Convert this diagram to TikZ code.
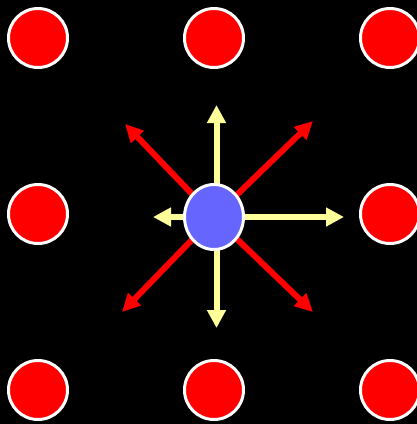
\documentclass[tikz,border=0pt]{standalone}
\usetikzlibrary{arrows.meta,shapes.geometric}
\definecolor{dotred}{HTML}{FF0000}
\definecolor{dotblue}{HTML}{6666FF}
\definecolor{raylight}{HTML}{FFFF99}
\tikzset{
  reddot/.style={circle, fill=dotred, draw=white, line width=3pt, minimum size=59pt, inner sep=0pt},
  bluedot/.style={ellipse, fill=dotblue, draw=white, line width=3pt, minimum width=59pt, minimum height=65pt, inner sep=0pt},
  axisray/.style={draw=raylight, line width=6pt, -{Triangle[length=18pt,width=18pt]}},
  diagray/.style={draw=dotred, line width=6pt, -{Triangle[length=18pt,width=17pt]}}
}
\begin{document}
\begin{tikzpicture}[x=1pt,y=-1pt]
  \fill[black] (0,0) rectangle (417,424);
  \useasboundingbox (0,0) rectangle (417,424);
  % lattice of red dots (the middle one is left out)
  \foreach \i/\x in {0/38,1/214,2/390}{
    \foreach \j/\y in {0/38,1/214,2/390}{
      \ifnum\i=1 \ifnum\j=1 \else
        \node[reddot] (d\i\j) at (\x,\y) {};
      \fi\else
        \node[reddot] (d\i\j) at (\x,\y) {};
      \fi
    }
  }
  % ray origins and end points
  \coordinate (c) at (214,217);
  \coordinate (cv) at (216.5,217);
  \coordinate (up) at (216.5,105);
  \coordinate (dn) at (216.5,328);
  \coordinate (lf) at (153,217);
  \coordinate (rt) at (344,217);
  \coordinate (ul) at (125,124);
  \coordinate (ur) at (313,121);
  \coordinate (ll) at (122,312);
  \coordinate (lr) at (313,312);
  % rays from the centre
  \foreach \t in {ul,ur,ll,lr} \draw[diagray] (c) -- (\t);
  \foreach \t in {up,dn} \draw[axisray] (cv) -- (\t);
  \foreach \t in {lf,rt} \draw[axisray] (c) -- (\t);
  % central dot
  \node[bluedot] (ctr) at (c) {};
\end{tikzpicture}
\end{document}
